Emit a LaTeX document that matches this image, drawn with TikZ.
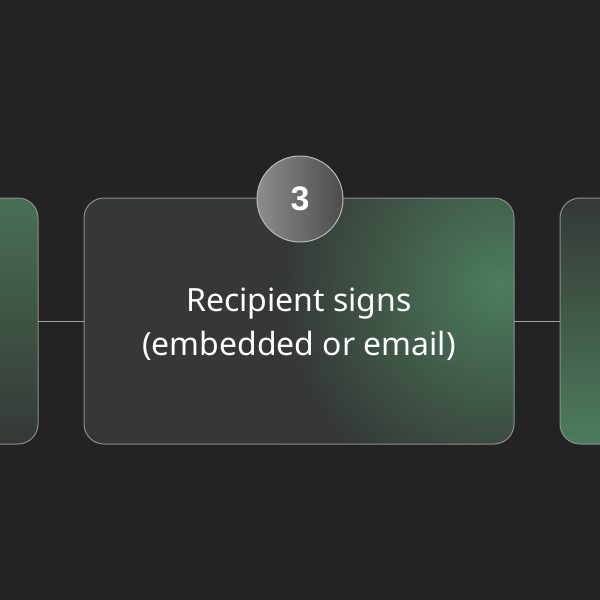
\documentclass[tikz,border=0pt]{standalone}
\usepackage{fontspec}
\setmainfont{Noto Sans}
\newfontfamily\badgefont{Liberation Sans}
\usetikzlibrary{positioning}
\definecolor{bgdark}{HTML}{232323}
\definecolor{boxdark}{HTML}{353836}
\definecolor{boxgreen}{HTML}{4C7D5C}
\definecolor{edgegray}{HTML}{8A8E8B}
\tikzset{
  stepcard/.style={rounded corners=20pt, draw=edgegray, line width=1pt},
  link/.style={draw=edgegray!80, line width=1pt},
}
\begin{document}
\begin{tikzpicture}[x=1pt, y=-1pt]
  \fill[bgdark] (0,0) rectangle (600,600);
  \useasboundingbox (0,0) rectangle (600,600);
  % side cards
  \path[stepcard, top color=boxgreen!80!boxdark, bottom color=boxdark] (-60,198) rectangle (38,444);
  \path[stepcard, top color=boxdark, bottom color=boxgreen] (560,198) rectangle (660,444);
  % main card
  \begin{scope}
    \clip[rounded corners=20pt] (84,198) rectangle (514,444);
    \fill[boxdark] (84,198) rectangle (514,444);
    \shade[inner color=boxgreen, outer color=boxdark] (280,65) rectangle (720,505);
  \end{scope}
  \path[stepcard] (84,198) rectangle (514,444);
  \coordinate (leftend) at (38,321);
  \coordinate (rightend) at (560,321);
  \node (card) at (299,321) [minimum width=430pt, minimum height=246pt] {};
  \node (label) at (299,324) [align=center, text=white, font=\fontsize{32}{44}\selectfont] {Recipient signs\\(embedded or email)};
  \draw[link] (leftend) -- (card.west);
  \draw[link] (card.east) -- (rightend);
  % step number
  \node (badge) at (300,199) [circle, minimum size=86pt, draw=edgegray!60!white, line width=1pt,
    left color=gray!90!white, right color=gray!60!black, text=white, font=\badgefont\fontsize{34}{34}\selectfont\bfseries] {3};
\end{tikzpicture}
\end{document}
